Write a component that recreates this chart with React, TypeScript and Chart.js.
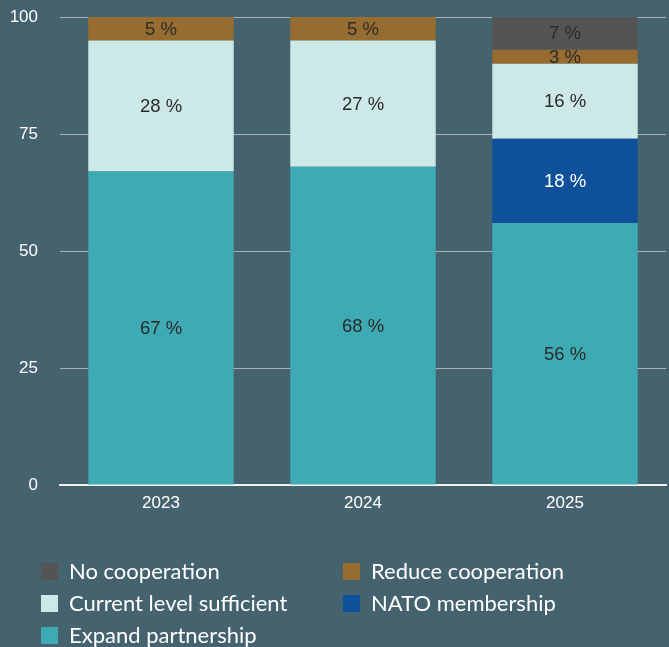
import React, { useEffect, useRef } from "react";
import { Chart, registerables } from "chart.js";

Chart.register(...registerables);

const categories = ["2023", "2024", "2025"];
const expandPartnership = [67, 68, 56];
const natoMembership = [0, 0, 18];
const currentLevel = [28, 27, 16];
const reduceCooperation = [5, 5, 3];
const noCooperation = [0, 0, 7];
const yTicks = [0, 25, 50, 75, 100];

const BG = "#45636f";

const seriesNames = [
  "Expand partnership",
  "NATO membership",
  "Current level sufficient",
  "Reduce cooperation",
  "No cooperation",
];
const seriesColors = ["#3eaab4", "#0e519a", "#cce9e7", "#976c30", "#545454"];
const labelColors = ["#2a2a2a", "#ffffff", "#2a2a2a", "#2a2a2a", "#2a2a2a"];
const legendOrder = [4, 3, 2, 1, 0];

const SANS = '"Liberation Sans", Arial, Helvetica, sans-serif';

const valueLabels = {
  id: "valueLabels",
  afterDatasetsDraw(chart: any) {
    const ctx = chart.ctx;
    ctx.save();
    ctx.font = `18.5px ${SANS}`;
    ctx.textAlign = "center";
    ctx.textBaseline = "middle";
    chart.data.datasets.forEach((ds: any, di: number) => {
      const meta = chart.getDatasetMeta(di);
      meta.data.forEach((el: any, i: number) => {
        const v = ds.data[i];
        if (!v) return;
        ctx.fillStyle = labelColors[di];
        ctx.fillText(`${v} %`, el.x, (el.y + el.base) / 2 + 1);
      });
    });
    ctx.restore();
  },
};

const gridLegend = {
  id: "gridLegend",
  afterDraw(chart: any) {
    const ctx = chart.ctx;
    ctx.save();
    ctx.font = '22px Lato, "Open Sans", sans-serif';
    ctx.textAlign = "left";
    ctx.textBaseline = "middle";
    const colX = [41, 343];
    const rowY = [563, 595, 627];
    legendOrder.forEach((di, k) => {
      const x = colX[k % 2];
      const y = rowY[Math.floor(k / 2)];
      ctx.fillStyle = seriesColors[di];
      ctx.fillRect(x, y, 17, 17);
      ctx.fillStyle = "#ffffff";
      ctx.fillText(chart.data.datasets[di].label, x + 28, y + 9);
    });
    ctx.restore();
  },
};

export default function App() {
  const ref = useRef<HTMLCanvasElement>(null);
  useEffect(() => {
    document.body.style.margin = "0";
    document.body.style.background = BG;
    const values = [expandPartnership, natoMembership, currentLevel, reduceCooperation, noCooperation];
    const chart = new Chart(ref.current!, {
      type: "bar",
      data: {
        labels: categories,
        datasets: seriesNames.map((name, i) => ({
          label: name,
          data: values[i],
          backgroundColor: seriesColors[i],
          borderWidth: 0,
          categoryPercentage: 0.8,
          barPercentage: 0.9,
        })),
      },
      options: {
        animation: false,
        responsive: false,
        maintainAspectRatio: false,
        layout: { padding: { top: 17, right: 3, bottom: 126, left: 0 } },
        plugins: { legend: { display: false }, tooltip: { enabled: false } },
        scales: {
          x: {
            stacked: true,
            grid: { display: false, drawTicks: false },
            border: { display: true, color: "#f2f2f2", width: 2 },
            ticks: { color: "#ffffff", font: { size: 17, family: SANS }, padding: 8 },
            afterFit: (s: any) => { s.height = 36; },
          },
          y: {
            stacked: true,
            min: 0,
            max: 100,
            afterBuildTicks: (s: any) => { s.ticks = yTicks.map((v) => ({ value: v })); },
            grid: { color: "#a7b3b9", lineWidth: 1, drawTicks: false },
            border: { display: false },
            ticks: { color: "#ffffff", font: { size: 17, family: SANS }, padding: 22 },
            afterFit: (s: any) => { s.width = 60; s.paddingTop = 0; s.paddingBottom = 0; },
          },
        },
      },
      plugins: [valueLabels, gridLegend],
    });
    return () => chart.destroy();
  }, []);
  return (
    <div style={{ width: 669, height: 647, background: BG }}>
      <canvas ref={ref} width={669} height={647} />
    </div>
  );
}
